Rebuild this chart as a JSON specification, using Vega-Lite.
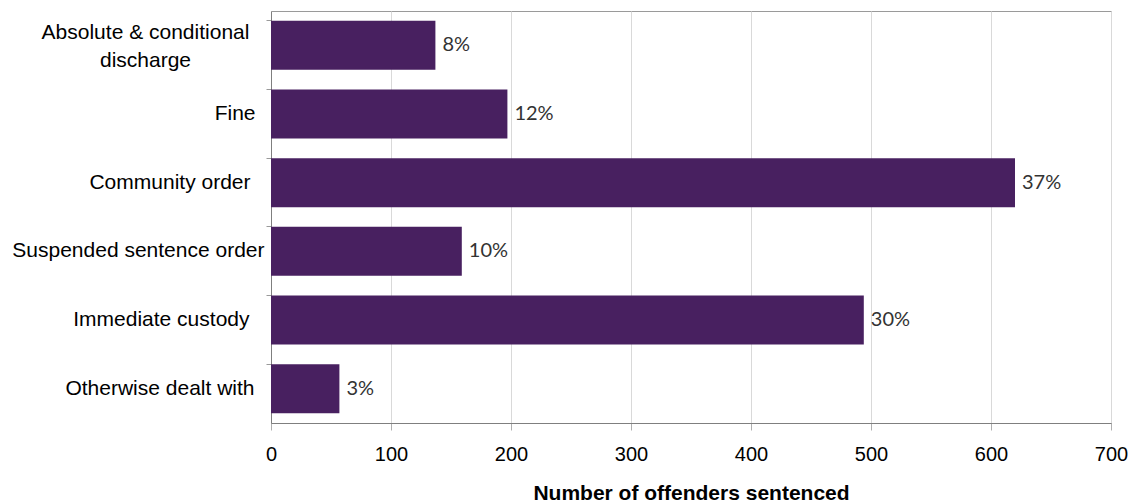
{
  "$schema": "https://vega.github.io/schema/vega-lite/v6.json",
  "width": 840,
  "height": 412,
  "autosize": {"type": "none"},
  "padding": {"left": 271, "top": 11, "right": 26, "bottom": 81},
  "background": "white",
  "config": {
    "view": {"stroke": "#9a9a9a", "strokeWidth": 1},
    "font": "Liberation Sans"
  },
  "data": {
    "values": [
      {"category": "Absolute & conditional discharge", "count": 137, "pct": "8%"},
      {"category": "Fine", "count": 197, "pct": "12%"},
      {"category": "Community order", "count": 620, "pct": "37%"},
      {"category": "Suspended sentence order", "count": 159, "pct": "10%"},
      {"category": "Immediate custody", "count": 494, "pct": "30%"},
      {"category": "Otherwise dealt with", "count": 57, "pct": "3%"}
    ]
  },
  "encoding": {
    "y": {
      "field": "category",
      "type": "nominal",
      "sort": null,
      "scale": {"paddingInner": 0.286, "paddingOuter": 0.143},
      "axis": {
        "title": null,
        "bandPosition": 0,
        "tickSize": 5,
        "tickColor": "#9a9a9a",
        "domainColor": "#7f7f7f",
        "labelFontSize": 21,
        "labelColor": "#000000",
        "labelFont": "Liberation Sans",
        "labelLineHeight": 28,
        "labelLimit": 400,
        "labelAlign": {
          "condition": {"test": "datum.value == 'Absolute & conditional discharge'", "value": "center"},
          "value": "right"
        },
        "labelOffset": {
          "condition": {"test": "datum.value == 'Absolute & conditional discharge'", "value": -12},
          "value": 0
        },
        "labelPadding": {
          "condition": [
            {"test": "datum.value == 'Absolute & conditional discharge'", "value": 121},
            {"test": "datum.value == 'Fine'", "value": 11},
            {"test": "datum.value == 'Community order'", "value": 16},
            {"test": "datum.value == 'Immediate custody'", "value": 17},
            {"test": "datum.value == 'Otherwise dealt with'", "value": 12}
          ],
          "value": 2
        },
        "labelExpr": "datum.value == 'Absolute & conditional discharge' ? ['Absolute & conditional', 'discharge'] : datum.value"
      }
    }
  },
  "layer": [
    {
      "mark": {"type": "bar", "color": "#482060"},
      "encoding": {
        "x": {
          "field": "count",
          "type": "quantitative",
          "scale": {"domain": [0, 700], "nice": false},
          "axis": {
            "values": [0, 100, 200, 300, 400, 500, 600, 700],
            "title": "Number of offenders sentenced",
            "titleFontSize": 21,
            "titleFontWeight": "bold",
            "titleColor": "#000000",
            "titleFont": "Liberation Sans",
            "titlePadding": 18,
            "grid": true,
            "gridColor": "#d9d9d9",
            "tickSize": 7,
            "tickColor": "#b0b0b0",
            "domainColor": "#7f7f7f",
            "labelFontSize": 20,
            "labelColor": "#000000",
            "labelFont": "Liberation Sans",
            "labelPadding": 14,
            "labelFlush": false
          }
        }
      }
    },
    {
      "mark": {"type": "text", "align": "left", "baseline": "middle", "dx": 7, "font": "Lato", "fontSize": 20, "color": "#333333"},
      "encoding": {
        "x": {"field": "count", "type": "quantitative"},
        "text": {"field": "pct"}
      }
    }
  ]
}
